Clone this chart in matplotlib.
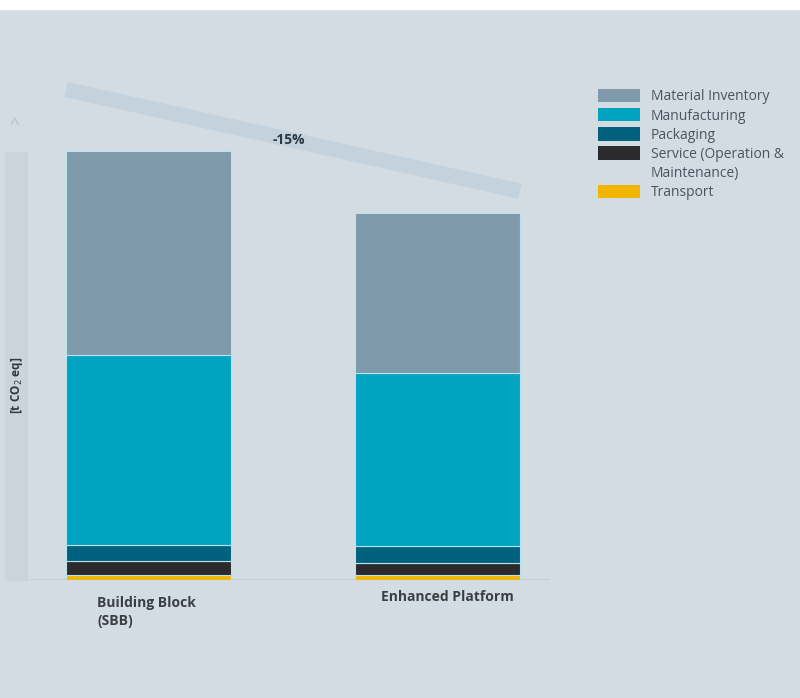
import matplotlib.pyplot as plt
from matplotlib.patches import Patch

plt.rcParams['font.family'] = ['Open Sans', 'DejaVu Sans']

products = ['Building Block\n(SBB)', 'Enhanced Platform']
categories = ['Transport', 'Service (Operation &', 'Packaging',
              'Manufacturing', 'Material Inventory']
transport = [1.2, 1.2]
service = [3.3, 2.8]
packaging = [3.7, 4.0]
manufacturing = [44.3, 40.3]
material = [47.5, 37.1]
reduction_label = '-15%'

colors = ['#f2b600', '#2b2b2e', '#00617f', '#00a3c0', '#7f9bab']
bg = '#d4dce3'

fig = plt.figure(figsize=(8, 6.98), dpi=100, facecolor=bg)
# white strip at the top
fig.patches.append(plt.Rectangle((0, 1 - 9 / 698), 1, 9 / 698,
                                 transform=fig.transFigure, color='white', zorder=0))
ax = fig.add_axes([30 / 800, 1 - 580 / 698, 520 / 800, 500 / 698], facecolor='none')

series = [transport, service, packaging, manufacturing, material]
x = [0, 1]
bottom = [0, 0]
for vals, c in zip(series, colors):
    ax.bar(x, vals, bottom=bottom, width=0.571, color=c,
           edgecolor='#b8e3ec', linewidth=0.8)
    bottom = [b + v for b, v in zip(bottom, vals)]

ax.set_xlim(-0.41, 1.389)
ax.set_ylim(0, 116.5)
for s in ax.spines.values():
    s.set_visible(False)
ax.axhline(0, color='#c2cad0', linewidth=1.2, zorder=0)
ax.set_xticks([])
ax.set_yticks([])

# reduction band
ax.plot([-0.285, 1.285], [114.3, 90.6], color='#c3d2dc', linewidth=11,
        solid_capstyle='butt', clip_on=False, zorder=1)
ax.text(0.485, 102.5, reduction_label, fontsize=10, fontweight='bold',
        color='#2d3a44', ha='center', va='center', zorder=3)

# x labels
ax.text(-0.178, -3.8, products[0], fontsize=10, fontweight='bold', color='#3a3f44',
        ha='left', va='top', linespacing=1.3)
ax.text(1.035, -2.4, products[1], fontsize=10, fontweight='bold', color='#3a3f44',
        ha='center', va='top')

# y axis band and label
fig.patches.append(plt.Rectangle((5 / 800, 1 - 580 / 698), 22 / 800, 428 / 698,
                                 transform=fig.transFigure, color='#ccd4da', zorder=0))
fig.text(17 / 800, 1 - 385 / 698, '[t CO$_2$ eq]', rotation=90, fontsize=8.5,
         fontweight='bold', color='#2d3a44', ha='center', va='center')
fig.text(14 / 800, 1 - 125 / 698, '^', fontsize=12, color='#b5bfc6',
         ha='center', va='center')

# legend: the wrapped service label gets its own row with an empty handle
order = categories[::-1]
handles = [Patch(facecolor=c) for c in colors[::-1]]
handles.insert(4, Patch(facecolor='none', edgecolor='none'))
order.insert(4, 'Maintenance)')
leg = fig.legend(handles, order, loc='upper left',
                 bbox_to_anchor=(598 / 800, 1 - 89 / 698), frameon=False,
                 fontsize=10, labelcolor='#4a5560', handlelength=3.0,
                 handleheight=1.1, labelspacing=0.27, handletextpad=0.8,
                 borderaxespad=0, borderpad=0)

fig.savefig('out.png', dpi=100, facecolor=bg)
